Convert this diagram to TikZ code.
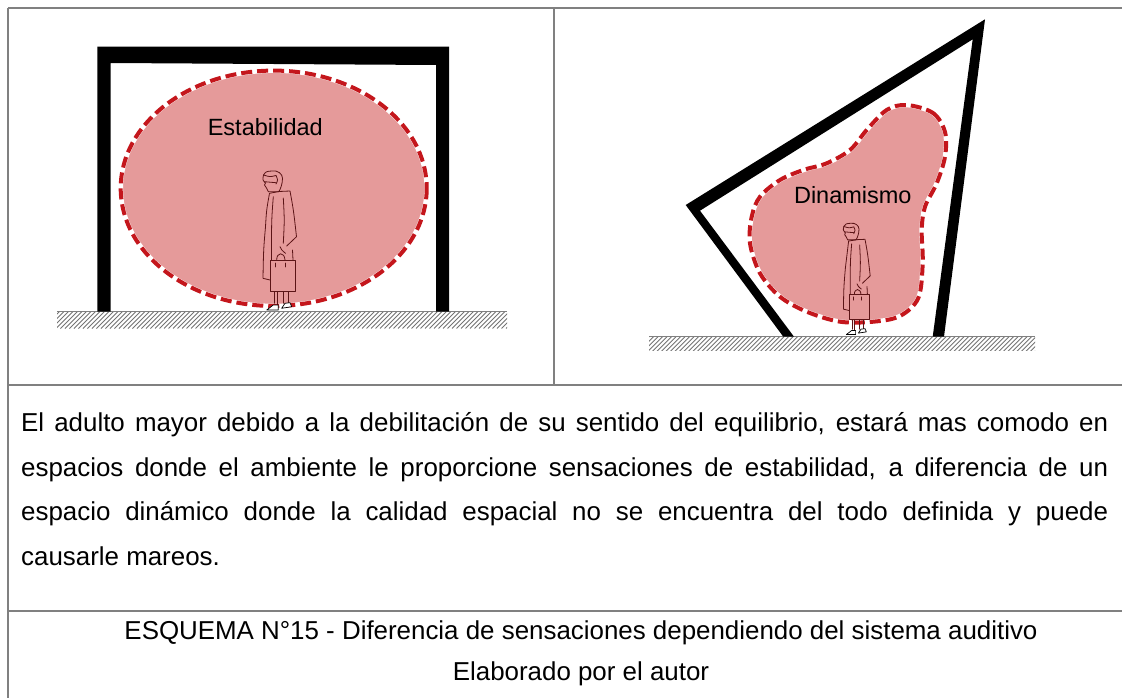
\documentclass[tikz,border=0pt]{standalone}
\usepackage{fontspec}
\setmainfont{Liberation Sans}
\begin{document}
\begin{tikzpicture}[x=1pt,y=-1pt,
  rule/.style={draw=black!50,line width=2pt},
  frame/.style={fill=black},
  ground/.style={draw=black!50,line width=1.3pt},
  hatch/.style={draw=black!55,line width=0.8pt},
  zonefill/.style={fill=zonepink},
  zonehalo/.style={draw=white,line width=4.6pt},
  zoneedge/.style={draw=zonered,line width=4pt,dash pattern=on 11pt off 5pt},
  label/.style={inner sep=0pt,anchor=base,font=\fontsize{23.5}{28}\selectfont},
  body/.style={inner sep=0pt,anchor=base west,font=\fontsize{25.9}{44.5}\selectfont},
  caption/.style={inner sep=0pt,anchor=base,font=\fontsize{25.9}{44.5}\selectfont},
  figline/.style={draw=figbrown,line width=0.8pt,line join=round,line cap=round},
  woman/.pic={
    % head with hair
    \draw[figline] (-8.3,-139) .. controls (-2,-140) and (2.5,-136) .. (2.5,-131.7)
      .. controls (2.5,-126) and (0.5,-121) .. (-1.2,-118.3)
      -- (-11.7,-118.3) .. controls (-13,-120) .. (-13.5,-122)
      -- (-15.5,-125) -- (-14.5,-127) .. controls (-17.5,-130) .. (-16.5,-135)
      .. controls (-14,-138.5) .. cycle;
    \draw[figline] (-15.5,-128.3) -- (-4,-127.3);
    \draw[figline] (-16.5,-135) .. controls (-10,-133) .. (-4,-134.5);
    \draw[figline] (-4,-134.5) .. controls (-2,-130) .. (-4,-126);
    % cape and coat
    \draw[figline] (-10.5,-116.7) -- (-1,-118.5) -- (10,-119)
      .. controls (13.5,-100) .. (16.5,-73.3) -- (6.7,-64);
    \draw[figline] (-10.5,-116.7) .. controls (-13.5,-100) .. (-14.5,-83.3)
      .. controls (-16.5,-60) .. (-17,-31.7) -- (-10,-30);
    \draw[figline] (-6.7,-113.3) .. controls (-8.5,-90) .. (-8.5,-50);
    \draw[figline] (3.3,-112) .. controls (4.5,-90) .. (3.3,-66.7);
    \draw[figline] (12.5,-60) -- (13,-50);
    % hand
    \draw[figline] (0,-63.3) .. controls (1.5,-60) .. (5.5,-56.7);
    % bag with handle and clasps
    \draw[figline] (-10,-50) rectangle (15,-18.3);
    \draw[figline] (-3.3,-50) .. controls (-3.5,-58) and (4.5,-58.5) .. (5,-50);
    \draw[figline] (-4.5,-47) -- (-4.5,-43) (5.5,-47) -- (5.5,-43);
    % legs
    \draw[figline] (-5.7,-18.3) -- (-5.7,-6.7) (-2.7,-18.3) -- (-2.7,-5)
      (3.3,-18.3) -- (3.3,-6.7) (8.3,-18.3) -- (8.3,-7);
    % shoes
    \draw[draw=black,fill=white,line width=0.7pt,line join=round]
      (-13.3,0) -- (-1.7,0) -- (-1.7,-5) -- (-6.7,-5) .. controls (-10,-3) .. cycle;
    \draw[draw=black,fill=white,line width=0.7pt,line join=round]
      (1.7,-1.7) -- (11.7,-3.3) -- (10,-7.3) -- (5,-6.7) .. controls (3,-4) .. cycle;
  }]
\definecolor{zonepink}{HTML}{E59A9A}
\definecolor{zonered}{HTML}{C4161C}
\definecolor{figbrown}{HTML}{5B1416}
\useasboundingbox (0,0) rectangle (1122,698);

% table rules
\draw[rule] (8,8) -- (1122,8);
\draw[rule] (8,8) -- (8,698);
\draw[rule] (554,8) -- (554,385);
\draw[rule] (8,385) -- (1122,385);
\draw[rule] (8,611) -- (1122,611);

% ---------- stable portal ----------
\begin{scope}
  \clip (57,311.7) rectangle (507,328);
  \foreach \x in {38,42.5,...,512} \draw[hatch] (\x,328.5) -- ++(17,-17);
\end{scope}
\draw[ground] (57,311.7) -- (507,311.7);

\path[frame] (97.3,46.7) -- (449,46.7) -- (449,311.7) -- (436,311.7) -- (436,65)
  -- (110.7,63) -- (110.7,311.7) -- (97.3,311.7) -- cycle;

\fill[zonefill] (273.7,188.3) ellipse [x radius=153, y radius=117.7];
\draw[zonehalo] (273.7,188.3) ellipse [x radius=153, y radius=117.7];
\draw[zoneedge] (273.7,188.3) ellipse [x radius=153, y radius=117.7];
\node[label] (estab) at (265.3,136) {Estabilidad};
\pic at (280,310) {woman};

% ---------- dynamic frame ----------
\begin{scope}
  \clip (649,336.7) rectangle (1035,350.7);
  \foreach \x in {630,634.5,...,1040} \draw[hatch] (\x,351.2) -- ++(15,-15);
\end{scope}
\draw[ground] (649,336.7) -- (1035,336.7);

\path[frame] (783.3,336.7) -- (685.7,205) -- (985,19.3) -- (944,336.7)
  -- (932.7,336.7) -- (972.7,39.3) -- (700,210.7) -- (794,336.7) -- cycle;

\def\blob{plot[smooth cycle,tension=0.55] coordinates {
  (906.7,105) (933,113) (945,132) (945,156.7) (936.7,183.3) (925,206.7)
  (921.7,230) (922.7,263.3) (918.3,298) (900,316) (873.3,321.7) (840,321.7)
  (806.7,311.7) (780,296.7) (760,273.3) (750,243.3) (751.7,216.7) (760,196.7)
  (780,180) (803.3,170) (826.7,163.3) (850,150) (866.7,130) (886.7,110)}}
\fill[zonefill] \blob;
\draw[zonehalo] \blob;
\draw[zoneedge] \blob;
\node[label] (dinam) at (852.8,203.3) {Dinamismo};
\pic[scale=0.8] at (857,334.5) {woman};

% ---------- text rows ----------
\node[body] (l1) at (21,431.7) {\hbox to 1087pt{El adulto mayor debido a la debilitación de su sentido del equilibrio, estará mas comodo en}};
\node[body] (l2) at (21,476.2) {\hbox to 1087pt{espacios donde el ambiente le proporcione sensaciones de estabilidad, a diferencia de un}};
\node[body] (l3) at (21,520.6) {\hbox to 1087pt{espacio dinámico donde la calidad espacial no se encuentra del todo definida y puede}};
\node[body] (l4) at (21,565) {causarle mareos.};

\node[caption] (cap1) at (581,639) {ESQUEMA N°15 - Diferencia de sensaciones dependiendo del sistema auditivo};
\node[caption] (cap2) at (581,680) {Elaborado por el autor};
\end{tikzpicture}
\end{document}
